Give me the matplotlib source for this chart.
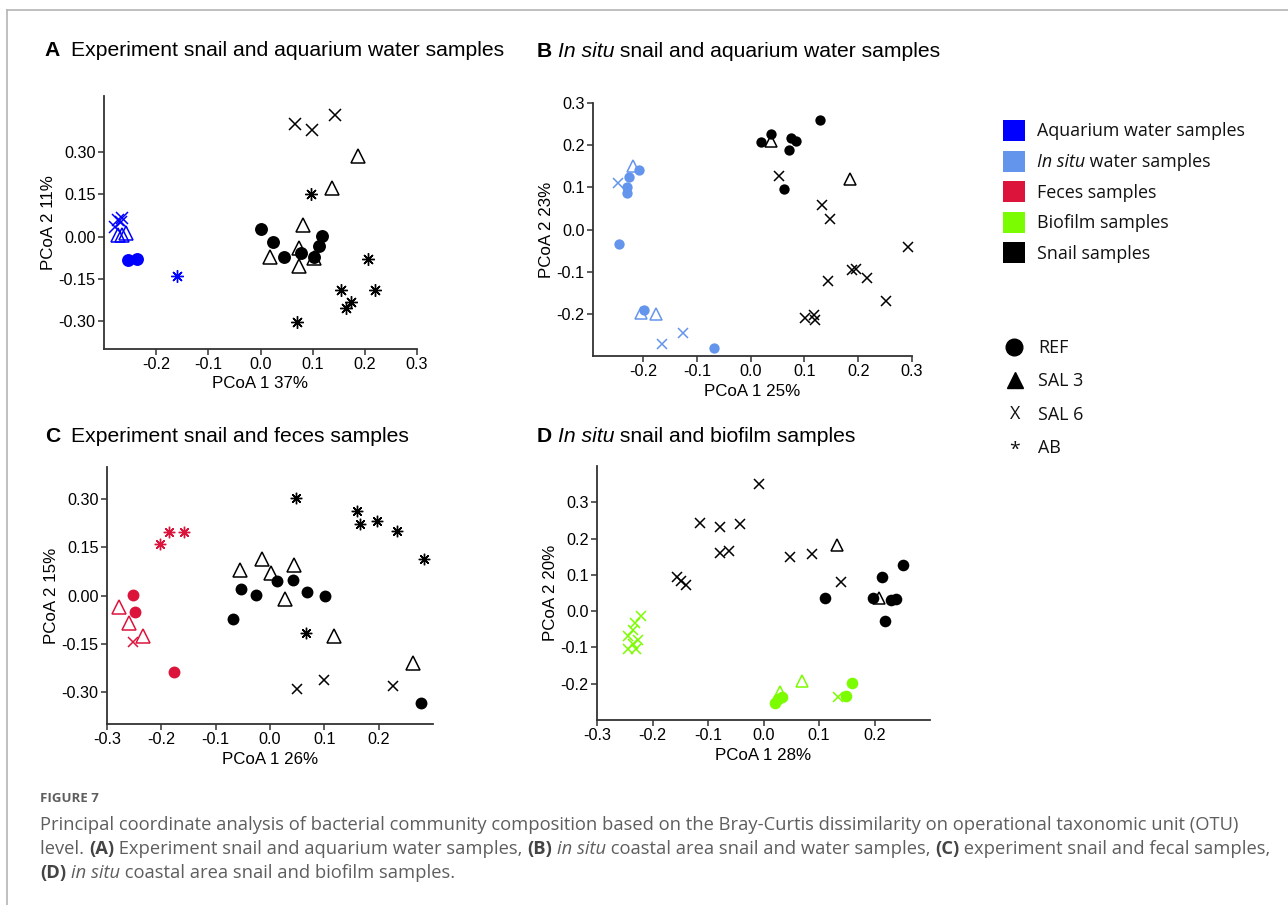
import numpy as np
import matplotlib
matplotlib.use("Agg")
import matplotlib.pyplot as plt
from matplotlib.lines import Line2D
from matplotlib.patches import Rectangle

# ---------------- data ----------------
# panel A: experiment snails + aquarium water
a_x = [0.067, 0.098, 0.142,
       0.186, 0.138, 0.082, 0.074, 0.018, 0.073, 0.103,
       0.096, 0.206, 0.154, 0.220, 0.174, 0.163, 0.070,
       0.001, 0.024, 0.045, 0.077, 0.103, 0.112, 0.118,
       -0.274, -0.268, -0.278, -0.265,
       -0.274, -0.265, -0.257,
       -0.254, -0.237,
       -0.160]
a_y = [0.401, 0.378, 0.431,
       0.286, 0.171, 0.041, -0.041, -0.071, -0.106, -0.077,
       0.153, -0.079, -0.191, -0.191, -0.234, -0.254, -0.304,
       0.026, -0.021, -0.074, -0.059, -0.073, -0.035, 0.002,
       0.059, 0.053, 0.035, 0.065,
       0.006, 0.006, 0.012,
       -0.083, -0.080,
       -0.142]
a_trt = (["SAL6"] * 3 + ["SAL3"] * 7 + ["AB"] * 7 + ["REF"] * 7
         + ["SAL6"] * 4 + ["SAL3"] * 3 + ["REF"] * 2 + ["AB"])
a_src = ["snail"] * 24 + ["aquarium"] * 10

# panel B: in situ snails + water
b_x = [0.019, 0.037, 0.075, 0.085, 0.071, 0.129, 0.062,
       0.037, 0.184,
       0.053, 0.132, 0.147, 0.144, 0.188, 0.196, 0.217, 0.251, 0.293, 0.101, 0.117, 0.119,
       -0.207, -0.227, -0.230, -0.230, -0.244, -0.199, -0.068,
       -0.218, -0.204, -0.176,
       -0.247, -0.125, -0.165]
b_y = [0.208, 0.226, 0.218, 0.210, 0.188, 0.259, 0.095,
       0.210, 0.120,
       0.127, 0.058, 0.024, -0.123, -0.097, -0.093, -0.114, -0.169, -0.041, -0.209, -0.203, -0.214,
       0.141, 0.125, 0.100, 0.087, -0.035, -0.190, -0.280,
       0.150, -0.197, -0.201,
       0.111, -0.245, -0.271]
b_trt = (["REF"] * 7 + ["SAL3"] * 2 + ["SAL6"] * 12
         + ["REF"] * 7 + ["SAL3"] * 3 + ["SAL6"] * 3)
b_src = ["snail"] * 21 + ["insitu"] * 13

# panel C: experiment snails + feces
c_x = [-0.203, -0.186, -0.159,
       -0.253, -0.248, -0.177,
       -0.278, -0.260, -0.234,
       -0.252,
       0.048, 0.160, 0.166, 0.197, 0.234, 0.283, 0.066,
       -0.055, -0.014, 0.001, 0.044, 0.028, 0.117, 0.263,
       -0.069, -0.054, -0.026, 0.012, 0.042, 0.068, 0.101, 0.277,
       0.049, 0.100, 0.226]
c_y = [0.161, 0.197, 0.197,
       0.003, -0.052, -0.238,
       -0.036, -0.087, -0.126,
       -0.144,
       0.305, 0.264, 0.224, 0.231, 0.202, 0.113, -0.118,
       0.079, 0.115, 0.070, 0.095, -0.012, -0.126, -0.211,
       -0.072, 0.021, 0.002, 0.046, 0.048, 0.012, -0.002, -0.334,
       -0.291, -0.264, -0.283]
c_trt = (["AB"] * 3 + ["REF"] * 3 + ["SAL3"] * 3 + ["SAL6"]
         + ["AB"] * 7 + ["SAL3"] * 7 + ["REF"] * 8 + ["SAL6"] * 3)
c_src = ["feces"] * 10 + ["snail"] * 25

# panel D: in situ snails + biofilm
d_x = [-0.008, -0.115, -0.079, -0.043, -0.079, -0.063, 0.048, 0.088, 0.139, -0.156, -0.149, -0.139,
       0.132, 0.209,
       0.110, 0.197, 0.213, 0.252, 0.229, 0.239, 0.219,
       -0.220, -0.232, -0.236, -0.245, -0.227, -0.236, -0.230, -0.245, 0.134,
       0.069, 0.029,
       0.021, 0.027, 0.034, 0.148, 0.160]
d_y = [0.351, 0.244, 0.232, 0.239, 0.159, 0.166, 0.148, 0.157, 0.079, 0.094, 0.083, 0.072,
       0.182, 0.037,
       0.035, 0.035, 0.094, 0.126, 0.030, 0.033, -0.027,
       -0.014, -0.034, -0.052, -0.069, -0.080, -0.091, -0.103, -0.103, -0.236,
       -0.193, -0.222,
       -0.252, -0.243, -0.236, -0.234, -0.199]
d_trt = (["SAL6"] * 12 + ["SAL3"] * 2 + ["REF"] * 7
         + ["SAL6"] * 9 + ["SAL3"] * 2 + ["REF"] * 5)
d_src = ["snail"] * 21 + ["biofilm"] * 16

legend_labels = ["Aquarium water samples", "In situ water samples", "Feces samples",
                 "Biofilm samples", "Snail samples"]
shape_labels = ["REF", "SAL 3", "SAL 6", "AB"]

colors = {"aquarium": "#0000ff", "insitu": "#6495ed", "feces": "#dc143c",
          "biofilm": "#7cfc00", "snail": "#000000"}

# ---------------- figure ----------------
plt.rcParams["axes.unicode_minus"] = False
W, H = 1288, 905
fig = plt.figure(figsize=(W / 100, H / 100), dpi=100)
R = fig.canvas.get_renderer()
SANS = "Liberation Sans"


def px_axes(l, t, r, b):
    return fig.add_axes([l / W, 1 - b / H, (r - l) / W, (b - t) / H])


def text_w(s, **kw):
    # width of a string incl. spaces, measured between two bars
    t1 = fig.text(0, 0, "|" + s + "|", **kw)
    t2 = fig.text(0, 0, "||", **kw)
    w = t1.get_window_extent(R).width - t2.get_window_extent(R).width
    t1.remove()
    t2.remove()
    return w


def runs(x, y, parts, **kw):
    # draw pieces of text one after another (pixel coords, baseline)
    for s, extra in parts:
        opts = dict(kw)
        opts.update(extra)
        fig.text(x / W, 1 - y / H, s, va="baseline", ha="left", **opts)
        x += text_w(s, **opts)


def style(ax, xlim, ylim, xt, yt, yfmt, xlabel, ylabel):
    ax.set_xlim(*xlim)
    ax.set_ylim(*ylim)
    ax.set_xticks(xt)
    ax.set_xticklabels(["%.1f" % v for v in xt])
    ax.set_yticks(yt)
    ax.set_yticklabels([yfmt % v for v in yt])
    for s in ["top", "right"]:
        ax.spines[s].set_visible(False)
    for s in ["left", "bottom"]:
        ax.spines[s].set_color("#333333")
        ax.spines[s].set_linewidth(1.3)
    ax.tick_params(direction="out", length=4, width=1.1, color="#333333",
                   labelsize=11.7, pad=2)
    for lab in ax.get_xticklabels() + ax.get_yticklabels():
        lab.set_family(SANS)
    ax.set_xlabel(xlabel, fontsize=12.2, family=SANS, labelpad=3)
    ax.set_ylabel(ylabel, fontsize=12.2, family=SANS, labelpad=2)
    ax.patch.set_alpha(0)


def draw(ax, xs, ys, trts, srcs, sc):
    xs = np.array(xs)
    ys = np.array(ys)
    trts = np.array(trts)
    srcs = np.array(srcs)
    for src in dict.fromkeys(srcs):
        c = colors[src]
        for trt in ["SAL3", "REF", "SAL6", "AB"]:
            m = (srcs == src) & (trts == trt)
            if not m.any():
                continue
            if trt == "REF":
                kw = dict(marker="o", ms=9.3 * sc, mfc=c, mec=c, mew=0)
            elif trt == "SAL3":
                kw = dict(marker="^", ms=10.3 * sc, mfc="none", mec=c, mew=1.1)
            elif trt == "SAL6":
                kw = dict(marker="x", ms=8.5 * sc, mec=c, mew=1.1)
            else:
                kw = dict(marker=(8, 2, 0), ms=9.0 * sc, mec=c, mew=1.0)
            ax.plot(xs[m], ys[m], ls="none", clip_on=False, **kw)


# panel A
axA = px_axes(104, 96, 417, 349)
draw(axA, a_x, a_y, a_trt, a_src, 1.0)
style(axA, (-0.3, 0.3), (-0.4, 0.5), [-0.2, -0.1, 0.0, 0.1, 0.2, 0.3],
      [-0.3, -0.15, 0.0, 0.15, 0.3], "%.2f", "PCoA 1 37%", "PCoA 2 11%")

# panel B
axB = px_axes(593, 103, 912, 356)
draw(axB, b_x, b_y, b_trt, b_src, 0.8)
style(axB, (-0.293, 0.3), (-0.3, 0.3), [-0.2, -0.1, 0.0, 0.1, 0.2, 0.3],
      [-0.2, -0.1, 0.0, 0.1, 0.2, 0.3], "%.1f", "PCoA 1 25%", "PCoA 2 23%")

# panel C
axC = px_axes(107, 467, 433, 724)
draw(axC, c_x, c_y, c_trt, c_src, 0.92)
style(axC, (-0.3, 0.3), (-0.4, 0.4), [-0.3, -0.2, -0.1, 0.0, 0.1, 0.2],
      [-0.3, -0.15, 0.0, 0.15, 0.3], "%.2f", "PCoA 1 26%", "PCoA 2 15%")

# panel D
axD = px_axes(597, 466, 930, 720)
draw(axD, d_x, d_y, d_trt, d_src, 0.9)
style(axD, (-0.3, 0.3), (-0.3, 0.4), [-0.3, -0.2, -0.1, 0.0, 0.1, 0.2],
      [-0.2, -0.1, 0.0, 0.1, 0.2, 0.3], "%.1f", "PCoA 1 28%", "PCoA 2 20%")

# panel titles
tkw = dict(fontsize=15.2, family=SANS, color="black")
fig.text(44 / W, 1 - 56 / H, "A", va="baseline", fontweight="bold", **tkw)
runs(71, 56, [("Experiment snail and aquarium water samples", {})], **tkw)
fig.text(537 / W, 1 - 57 / H, "B", va="baseline", fontweight="bold", **tkw)
runs(558, 57, [("In situ", {"style": "italic"}),
               (" snail and aquarium water samples", {})], **tkw)
fig.text(45 / W, 1 - 442 / H, "C", va="baseline", fontweight="bold", **tkw)
runs(71, 442, [("Experiment snail and feces samples", {})], **tkw)
fig.text(537 / W, 1 - 442 / H, "D", va="baseline", fontweight="bold", **tkw)
runs(558, 442, [("In situ", {"style": "italic"}),
                (" snail and biofilm samples", {})], **tkw)

# colour legend
lkw = dict(fontsize=12.9, family="Open Sans", color="#111111")
sq_colors = [colors["aquarium"], colors["insitu"], colors["feces"],
             colors["biofilm"], colors["snail"]]
for i, (lab, c) in enumerate(zip(legend_labels, sq_colors)):
    yc = 130.5 + i * 30.6
    fig.add_artist(Rectangle((1003 / W, 1 - (yc + 10.5) / H), 22 / W, 21 / H,
                             transform=fig.transFigure, facecolor=c, edgecolor="none"))
    if lab.startswith("In situ"):
        runs(1037, yc + 6, [("In situ", {"style": "italic"}),
                            (lab[7:], {})], **lkw)
    else:
        runs(1037, yc + 6, [(lab, {})], **lkw)

# shape legend
shape_y = [347, 380, 414, 447]
fig.add_artist(Line2D([1014 / W], [1 - shape_y[0] / H], marker="o", ms=12,
                      color="black", transform=fig.transFigure))
fig.add_artist(Line2D([1015 / W], [1 - shape_y[1] / H], marker="^", ms=12,
                      color="black", transform=fig.transFigure))
fig.text(1015 / W, 1 - shape_y[2] / H, "X", ha="center", va="center", **lkw)
fig.text(1015 / W, 1 - (shape_y[3] + 3) / H, "*", ha="center", va="center",
         fontsize=14, family="Open Sans", color="#111111")
for lab, yy in zip(shape_labels, shape_y):
    runs(1038, yy + 6, [(lab, {})], **lkw)

# frame lines
fig.add_artist(Line2D([7 / W, 1], [1 - 10 / H, 1 - 10 / H], color="#b4b4b4",
                      lw=1.2, transform=fig.transFigure))
fig.add_artist(Line2D([7 / W, 7 / W], [0, 1 - 10 / H], color="#b4b4b4",
                      lw=1.2, transform=fig.transFigure))

# caption
ckw = dict(family="Open Sans", color="#5e5e5e")
fig.text(40 / W, 1 - 802 / H, "FIGURE 7", fontsize=9.5, fontweight="bold",
         va="baseline", **ckw)
line1 = ("Principal coordinate analysis of bacterial community composition based on the "
         "Bray-Curtis dissimilarity on operational taxonomic unit (OTU)")
csize = 10 * 1203 / text_w(line1, fontsize=10, **ckw)
ckw["fontsize"] = csize
bold = {"fontweight": "bold", "color": "#444444"}
ital = {"style": "italic"}
runs(40, 830, [(line1, {})], **ckw)
runs(40, 854, [("level. ", {}), ("(A)", bold),
               (" Experiment snail and aquarium water samples, ", {}), ("(B)", bold),
               (" ", {}), ("in situ", ital),
               (" coastal area snail and water samples, ", {}), ("(C)", bold),
               (" experiment snail and fecal samples,", {})], **ckw)
runs(40, 878, [("(D)", bold), (" ", {}), ("in situ", ital),
               (" coastal area snail and biofilm samples.", {})], **ckw)

fig.savefig("out.png", dpi=100)
